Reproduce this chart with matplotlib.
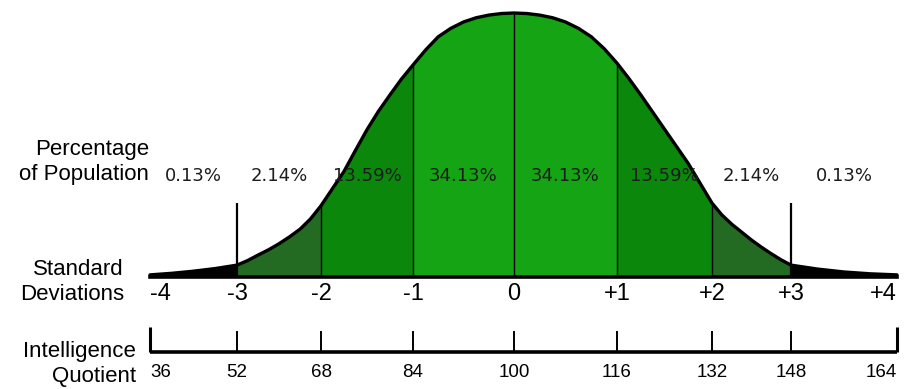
import numpy as np
import matplotlib.pyplot as plt

# standard deviation marks and their labels
sd_ticks = [-4, -3, -2, -1, 0, 1, 2, 3, 4]
sd_labels = ['-4', '-3', '-2', '-1', '0', '+1', '+2', '+3', '+4']

# IQ scale under the curve
iq_values = [36, 52, 68, 84, 100, 116, 132, 148, 164]

# share of the population in each band between two SD marks
band_pcts = ['0.13%', '2.14%', '13.59%', '34.13%', '34.13%', '13.59%', '2.14%', '0.13%']

# height of the bell curve (peak = 1)
curve_sd = [-4.0, -3.75, -3.5, -3.25,
            -3.0, -2.875, -2.75, -2.625, -2.5, -2.375, -2.25, -2.125,
            -2.0, -1.875, -1.75, -1.625, -1.5, -1.375, -1.25, -1.125,
            -1.0, -0.875, -0.75, -0.625, -0.5, -0.375, -0.25, -0.125,
            0.0, 0.125, 0.25, 0.375, 0.5, 0.625, 0.75, 0.875,
            1.0, 1.125, 1.25, 1.375, 1.5, 1.625, 1.75, 1.875,
            2.0, 2.125, 2.25, 2.375, 2.5, 2.625, 2.75, 2.875,
            3.0, 3.25, 3.5, 3.75, 4.0]
curve_h = [0.008, 0.014, 0.022, 0.032,
           0.045, 0.062, 0.083, 0.103, 0.126, 0.152, 0.181, 0.220,
           0.270, 0.335, 0.400, 0.480, 0.558, 0.628, 0.690, 0.750,
           0.803, 0.860, 0.910, 0.942, 0.966, 0.982, 0.992, 0.998,
           1.0, 0.998, 0.992, 0.982, 0.966, 0.942, 0.910, 0.865,
           0.810, 0.752, 0.690, 0.625, 0.560, 0.495, 0.430, 0.355,
           0.280, 0.235, 0.200, 0.170, 0.140, 0.113, 0.088, 0.065,
           0.045, 0.030, 0.019, 0.012, 0.008]

band_colors = ['black', '#236b23', '#0b870b', '#14a414',
               '#14a414', '#0b870b', '#236b23', 'black']

# the drawing spaces the SD marks unevenly, so stretch the x axis the same way
sd_knots = [-6, -4, -3, -2, -1, 0, 1, 2, 3, 4, 5]
px_knots = [-24, 150, 237, 321, 413, 514, 617, 712, 791, 897, 1003]


def fwd(x):
    return np.interp(x, sd_knots, px_knots)


def inv(p):
    return np.interp(p, px_knots, sd_knots)


plt.rcParams['font.family'] = ['Liberation Sans', 'DejaVu Sans']

W, H = 905, 389
fig = plt.figure(figsize=(W / 100, H / 100), dpi=100)
ax = fig.add_axes([0, 0, 1, 1])
ax.set_xscale('function', functions=(fwd, inv))
ax.set_xlim(inv(0), inv(W))
# baseline at pixel row 277, peak at row 13
ax.set_ylim((277 - H) / 264, 277 / 264)
ax.axis('off')

sd = np.array(curve_sd)
h = np.array(curve_h)

# coloured bands under the curve
for i in range(len(band_pcts)):
    lo, hi = sd_ticks[i], sd_ticks[i + 1]
    m = (sd >= lo) & (sd <= hi)
    ax.fill_between(sd[m], 0, h[m], color=band_colors[i], lw=0)

# thin dividers between the inner bands
for t in [-2, -1, 0, 1, 2]:
    ax.vlines(t, 0, h[sd == t][0], color='black', lw=1.0)

# taller marks at +-3 SD
ax.vlines([-3, 3], 0, 0.28, color='black', lw=1.6)

ax.plot(sd, h, color='black', lw=2.4, solid_capstyle='round', solid_joinstyle='round')
ax.plot([sd_ticks[0], sd_ticks[-1]], [0, 0], color='black', lw=2.6)

# percentages above each band
for i, pct in enumerate(band_pcts):
    mid = (sd_ticks[i] + sd_ticks[i + 1]) / 2
    ax.text(mid, 0.383, pct, ha='center', va='center', fontsize=13,
            color='#1c1c1c', family='DejaVu Sans')

last = len(sd_ticks) - 1
for i, (t, lbl) in enumerate(zip(sd_ticks, sd_labels)):
    ha = 'left' if i == 0 else ('right' if i == last else 'center')
    ax.text(t, -0.064, lbl, ha=ha, va='center', fontsize=17)

# IQ scale
iq_sd = [(v - 100) / 16 for v in iq_values]
ax.plot([iq_sd[0], iq_sd[-1]], [-0.284, -0.284], color='black', lw=2.6,
        solid_capstyle='butt')
ax.vlines(iq_sd, -0.284, -0.205, color='black', lw=1.4)
ax.vlines([iq_sd[0], iq_sd[-1]], -0.284, -0.19, color='black', lw=2.2)
for i, (x, v) in enumerate(zip(iq_sd, iq_values)):
    ha = 'left' if i == 0 else ('right' if i == last else 'center')
    ax.text(x, -0.36, str(v), ha=ha, va='center', fontsize=13.5)

# row titles on the left
fig.text(149 / W, 1 - 162 / H, 'Percentage\nof Population', ha='right', va='center',
         multialignment='right', fontsize=16, linespacing=1.3)
fig.text(124 / W, 1 - 282 / H, 'Standard\nDeviations', ha='right', va='center',
         multialignment='right', fontsize=16, linespacing=1.3)
fig.text(136 / W, 1 - 364 / H, 'Intelligence\nQuotient', ha='right', va='center',
         multialignment='right', fontsize=16, linespacing=1.3)

fig.savefig('out.png', dpi=100)
